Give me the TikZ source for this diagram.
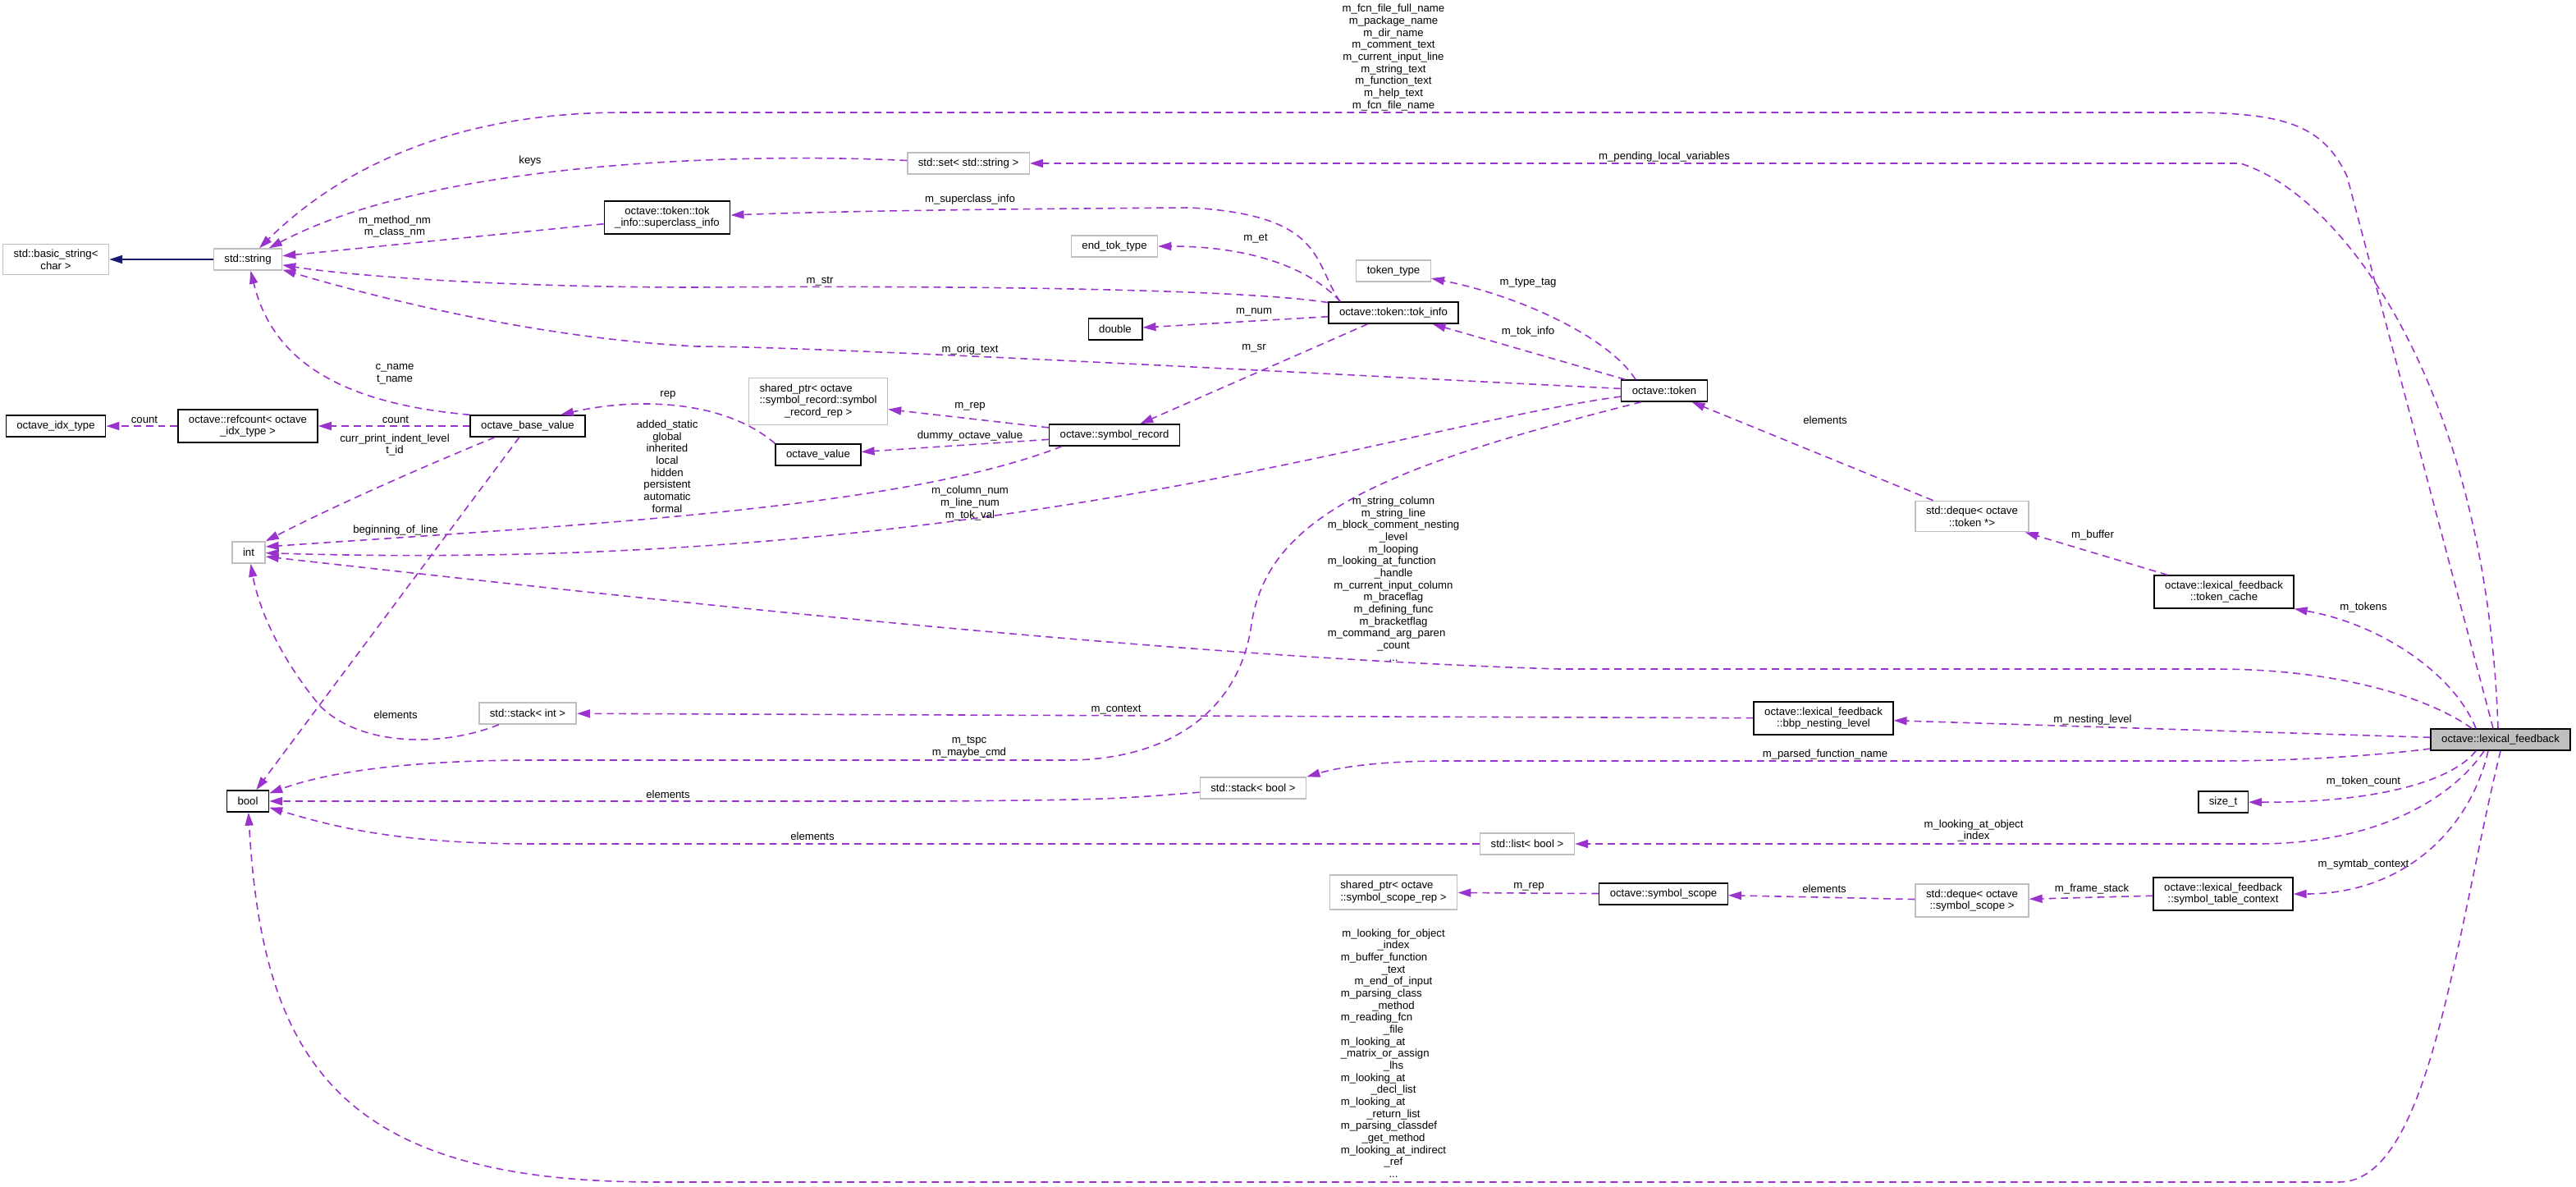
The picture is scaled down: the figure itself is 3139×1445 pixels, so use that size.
\documentclass[tikz,border=0pt]{standalone}
\usepackage{fontspec}
\setmainfont{Liberation Sans}
\usepackage{xcolor}
\usepackage{tikz}
\usetikzlibrary{arrows.meta}
\definecolor{dxpurple}{RGB}{154,50,205}
\definecolor{dxnavy}{RGB}{25,25,112}
\definecolor{dxgray}{RGB}{191,191,191}
\newcommand\dxfont{\fontsize{3.75pt}{4.17pt}\selectfont}
\newcommand\lftrow[1]{\multicolumn{1}{@{}l@{}}{#1}}

\begin{document}
\begin{tikzpicture}[
  x=0.01cm, y=-0.01cm,
  font=\dxfont,
  box/.style={draw, fill=white, line width=0.4pt, align=center, inner xsep=0.13cm, inner ysep=0.065cm, minimum height=0.26cm},
  graybox/.style={box, draw=dxgray},
  blackbox/.style={box, draw=black},
  mainbox/.style={box, draw=black, fill=dxgray},
  dep/.style={draw=dxpurple, line width=0.45pt, dash pattern=on 2.5pt off 1.7pt, -{Triangle[length=0.16cm,width=0.1cm]}},
  inh/.style={draw=dxnavy, line width=0.6pt, solid, -{Triangle[length=0.16cm,width=0.1cm]}},
  lbl/.style={inner sep=0pt, align=center}
]
\useasboundingbox (0,0) rectangle (3139,1445);

\node[graybox] (bstr) at (68,316) {std::basic\_string<\\char >};
\node[graybox] (str) at (302,316) {std::string};
\node[blackbox] (sci) at (813,265) {octave::token::tok\\\_info::superclass\_info};
\node[graybox] (sset) at (1180,199) {std::set< std::string >};
\node[graybox] (endtok) at (1358,300) {end\_tok\_type};
\node[graybox] (toktype) at (1698,330) {token\_type};
\node[blackbox] (tokinfo) at (1698,381) {octave::token::tok\_info};
\node[blackbox] (dbl) at (1359,401) {double};
\node[blackbox] (token) at (2028,476) {octave::token};
\node[graybox] (srrep) at (997,489) {\begin{tabular}{@{}c@{}}\lftrow{shared\_ptr< octave}\\\lftrow{::symbol\_record::symbol}\\\_record\_rep >\end{tabular}};
\node[blackbox] (symrec) at (1358,530) {octave::symbol\_record};
\node[blackbox] (oval) at (997,554) {octave\_value};
\node[blackbox] (obv) at (643,519) {octave\_base\_value};
\node[blackbox] (refcnt) at (302,519) {octave::refcount< octave\\\_idx\_type >};
\node[blackbox] (idxtype) at (68,519) {octave\_idx\_type};
\node[graybox] (inttype) at (303,673) {int};
\node[blackbox] (booltype) at (302,976) {bool};
\node[graybox] (stackint) at (643,869) {std::stack< int >};
\node[graybox] (stackbool) at (1527,960) {std::stack< bool >};
\node[graybox] (listbool) at (1861,1028) {std::list< bool >};
\node[graybox] (scoperep) at (1698,1087) {\begin{tabular}{@{}l@{}}shared\_ptr< octave\\::symbol\_scope\_rep >\end{tabular}};
\node[blackbox] (symscope) at (2027,1089) {octave::symbol\_scope};
\node[graybox] (dequescope) at (2403,1097) {std::deque< octave\\::symbol\_scope >};
\node[blackbox] (symtab) at (2709,1089) {octave::lexical\_feedback\\::symbol\_table\_context};
\node[blackbox] (bbp) at (2222,875) {octave::lexical\_feedback\\::bbp\_nesting\_level};
\node[blackbox] (tcache) at (2710,721) {octave::lexical\_feedback\\::token\_cache};
\node[graybox] (dequetok) at (2403,629) {std::deque< octave\\::token *>};
\node[mainbox] (lex) at (3047,901) {octave::lexical\_feedback};
\node[blackbox] (sizet) at (2709,977) {size\_t};

\draw[inh] (str) -- (bstr);

\draw[dep] ([xshift=-0.09cm]lex.north) -- (2860,215) .. controls (2830,150) and (2780,137) .. (2660,137) -- (760,137) .. controls (560,137) and (420,200) .. (str);
\draw[dep] ([xshift=-0.03cm]lex.north) .. controls (3030,480) and (2860,240) .. (2730,199) -- (sset);
\draw[dep] ([xshift=-0.3cm]lex.north) .. controls (2990,820) and (2900,760) .. (tcache.south east);
\draw[dep] ([xshift=-0.35cm]lex.north) .. controls (2960,850) and (2850,815) .. (2700,815) -- (1900,815) .. controls (1400,800) and (700,720) .. ([yshift=-0.05cm]inttype.east);
\draw[dep] (lex) -- (bbp);
\draw[dep] (lex) .. controls (2900,920) and (2800,927) .. (2700,927) -- (1760,927) .. controls (1680,927) and (1630,935) .. (stackbool.north east);
\draw[dep] ([xshift=-0.3cm]lex.south) .. controls (2990,950) and (2900,978) .. (sizet);
\draw[dep] ([xshift=-0.2cm]lex.south) .. controls (2990,970) and (2900,1028) .. (2750,1028) -- (listbool);
\draw[dep] ([xshift=-0.15cm]lex.south) .. controls (3010,1010) and (2930,1089) .. (symtab);
\draw[dep] (lex.south) .. controls (2990,1150) and (2960,1440) .. (2850,1440) -- (800,1440) .. controls (420,1440) and (320,1300) .. (booltype);

\draw[dep] (sset) .. controls (880,185) and (520,200) .. (str);
\draw[dep] (sci) -- (str);
\draw[dep] ([xshift=-0.65cm]tokinfo.north) .. controls (1600,320) and (1615,262) .. (1450,253) .. controls (1300,254) and (1050,256) .. (sci);
\draw[dep] ([xshift=-0.65cm]tokinfo.north) .. controls (1600,330) and (1530,300) .. (endtok);
\draw[dep] (tokinfo) .. controls (1500,350) and (1100,348) .. (850,350) .. controls (600,350) and (420,335) .. (str);
\draw[dep] (tokinfo) -- (dbl);
\draw[dep] (tokinfo) -- (symrec);
\draw[dep] (token) -- (tokinfo);
\draw[dep] ([xshift=-0.35cm]token.north) .. controls (1960,410) and (1850,360) .. (toktype);
\draw[dep] (token) .. controls (1600,455) and (1000,422) .. (850,422) .. controls (650,412) and (450,360) .. (str);
\draw[dep] ([xshift=-0.28cm]token.south) .. controls (1680,570) and (1545,630) .. (1525,760) .. controls (1510,870) and (1420,926) .. (1300,926) -- (650,926) .. controls (500,926) and (400,940) .. (booltype);
\draw[dep] (token) .. controls (1700,520) and (1200,700) .. (inttype);
\draw[dep] (symrec) -- (srrep);
\draw[dep] (symrec) -- (oval);
\draw[dep] ([xshift=-0.64cm]symrec.south) .. controls (1100,620) and (700,640) .. ([yshift=0.07cm]inttype.east);
\draw[dep] (oval.north west) .. controls (880,485) and (770,485) .. ([xshift=0.4cm]obv.north);
\draw[dep] (obv.north west) .. controls (400,490) and (330,430) .. (str);
\draw[dep] (obv) -- (refcnt);
\draw[dep] (refcnt) -- (idxtype);
\draw[dep] ([xshift=-0.4cm]obv.south) .. controls (500,575) and (400,620) .. (inttype.north east);
\draw[dep] (obv) -- (booltype);
\draw[dep] ([xshift=-0.35cm]stackint.south) .. controls (540,910) and (440,910) .. (390,860) .. controls (340,800) and (315,740) .. (inttype);
\draw[dep] (bbp) -- (stackint);
\draw[dep] (stackbool) .. controls (1350,974) .. (1150,976) -- (booltype);
\draw[dep] (listbool) -- (650,1028) .. controls (480,1028) and (400,1005) .. (booltype);
\draw[dep] (tcache) -- (dequetok);
\draw[dep] (dequetok) -- (token);
\draw[dep] (symtab) -- (dequescope);
\draw[dep] (dequescope) -- (symscope);
\draw[dep] (symscope) -- (scoperep);

\node[lbl] (lfcn) at (1698,70) {m\_fcn\_file\_full\_name\\m\_package\_name\\m\_dir\_name\\m\_comment\_text\\m\_current\_input\_line\\m\_string\_text\\m\_function\_text\\m\_help\_text\\m\_fcn\_file\_name};
\node[lbl] (lpending) at (2028,191) {m\_pending\_local\_variables};
\node[lbl] (lkeys) at (646,196) {keys};
\node[lbl] (lmethod) at (481,276) {m\_method\_nm\\m\_class\_nm};
\node[lbl] (lsuper) at (1182,243) {m\_superclass\_info};
\node[lbl] (let) at (1530,291) {m\_et};
\node[lbl] (lstr) at (999,343) {m\_str};
\node[lbl] (lnum) at (1528,380) {m\_num};
\node[lbl] (lsr) at (1528,424) {m\_sr};
\node[lbl] (ltokinfo) at (1862,404) {m\_tok\_info};
\node[lbl] (ltypetag) at (1862,345) {m\_type\_tag};
\node[lbl] (lorig) at (1182,426) {m\_orig\_text};
\node[lbl] (ltspc) at (1181,910) {m\_tspc\\m\_maybe\_cmd};
\node[lbl] (lcolumn) at (1182,613) {m\_column\_num\\m\_line\_num\\m\_tok\_val};
\node[lbl] (lscope) at (813,568) {added\_static\\global\\inherited\\local\\hidden\\persistent\\automatic\\formal};
\node[lbl] (lindent) at (481,542) {curr\_print\_indent\_level\\t\_id};
\node[lbl] (lbol) at (482,646) {beginning\_of\_line};
\node[lbl] (lcname) at (481,456) {c\_name\\t\_name};
\node[lbl] (lcount) at (482,511) {count};
\node[lbl] (lcountidx) at (176,511) {count};
\node[lbl] (lrep) at (814,481) {rep};
\node[lbl] (lsrrep) at (1182,495) {m\_rep};
\node[lbl] (ldummy) at (1182,531) {dummy\_octave\_value};
\node[lbl] (lelint) at (482,871) {elements};
\node[lbl] (lcontext) at (1360,865) {m\_context};
\node[lbl] (lnesting) at (2550,877) {m\_nesting\_level};
\node[lbl] (lparsed) at (2224,919) {m\_parsed\_function\_name};
\node[lbl] (lelstack) at (814,968) {elements};
\node[lbl] (lellist) at (990,1019) {elements};
\node[lbl] (lobject) at (2405,1012) {m\_looking\_at\_object\\\_index};
\node[lbl] (ltokcount) at (2880,952) {m\_token\_count};
\node[lbl] (lsymtab) at (2880,1053) {m\_symtab\_context};
\node[lbl] (lframe) at (2549,1083) {m\_frame\_stack};
\node[lbl] (lelscope) at (2223,1083) {elements};
\node[lbl] (lscoperep) at (1863,1080) {m\_rep};
\node[lbl] (lbuffer) at (2550,652) {m\_buffer};
\node[lbl] (leltok) at (2224,512) {elements};
\node[lbl] (ltokens) at (2880,740) {m\_tokens};
\node[lbl] (lflags) at (1698,707) {\begin{tabular}{@{}c@{}}m\_string\_column\\m\_string\_line\\m\_block\_comment\_nesting\\\_level\\m\_looping\\\lftrow{m\_looking\_at\_function}\\\_handle\\m\_current\_input\_column\\m\_braceflag\\m\_defining\_func\\m\_bracketflag\\\lftrow{m\_command\_arg\_paren}\\\_count\\...\end{tabular}};
\node[lbl] (lbools) at (1698,1285) {\begin{tabular}{@{}c@{}}m\_looking\_for\_object\\\_index\\\lftrow{m\_buffer\_function}\\\_text\\m\_end\_of\_input\\\lftrow{m\_parsing\_class}\\\_method\\\lftrow{m\_reading\_fcn}\\\_file\\\lftrow{m\_looking\_at}\\\lftrow{\_matrix\_or\_assign}\\\_lhs\\\lftrow{m\_looking\_at}\\\_decl\_list\\\lftrow{m\_looking\_at}\\\_return\_list\\\lftrow{m\_parsing\_classdef}\\\_get\_method\\\lftrow{m\_looking\_at\_indirect}\\\_ref\\...\end{tabular}};
\end{tikzpicture}
\end{document}
